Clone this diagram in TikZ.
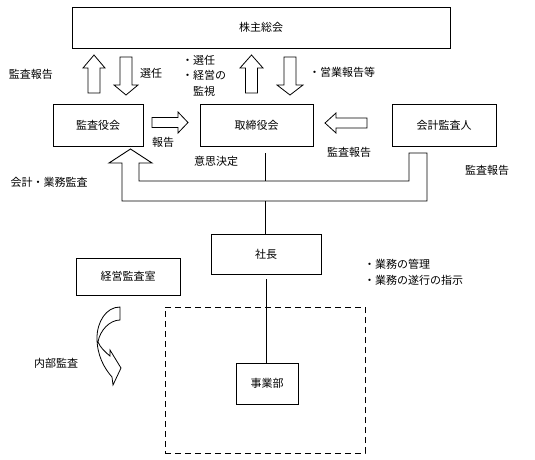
\documentclass[tikz,border=0pt]{standalone}
\usepackage{fontspec}
\setmainfont{Noto Sans CJK JP}

\begin{document}
\begin{tikzpicture}[x=1pt, y=-1pt, font=\fontsize{11}{15.5}\selectfont, line join=miter,
	box/.style={draw, line width=0.9pt, inner sep=0pt},
	lbl/.style={inner sep=0pt},
	pics/blkarr/.style n args={4}{code={
		% length / shaft half width / head half width / head length
		\draw[line width=0.8pt] (0,-#2) -- (#1-#4,-#2) -- (#1-#4,-#3) -- (#1,0) -- (#1-#4,#3) -- (#1-#4,#2) -- (0,#2) -- cycle;
	}}]
	\useasboundingbox (0,0) rectangle (535,459);

	% 会議体
	\node[box, minimum width=378pt, minimum height=41pt] (gm) at (261,27.5) {株主総会};
	\node[box, minimum width=90pt, minimum height=42pt] (kansa) at (98,125) {監査役会};
	\node[box, minimum width=113pt, minimum height=42pt] (board) at (256.5,125) {取締役会};
	\node[box, minimum width=104pt, minimum height=42pt] (auditor) at (444,125) {会計監査人};
	\node[box, minimum width=110pt, minimum height=40pt] (ceo) at (266,254) {社長};
	\node[box, minimum width=104pt, minimum height=37pt] (office) at (128,276.5) {経営監査室};
	\node[draw, dashed, dash pattern=on 6pt off 4pt, line width=1pt, minimum width=200pt, minimum height=146pt] (frame) at (265,380) {};
	\node[box, fill=white, minimum width=62pt, minimum height=41pt] (div) at (267,383.5) {事業部};

	% 株主総会との間
	\pic[rotate=90] (upA) at (94,93) {blkarr={38}{6}{11}{13}};
	\pic[rotate=-90] (downA) at (126,57) {blkarr={38}{6}{12}{10}};
	\pic[rotate=90] (upB) at (251.5,93) {blkarr={38}{6}{11.5}{13}};
	\pic[rotate=-90] (downB) at (290,57) {blkarr={38}{6}{13}{10}};
	\node[lbl] (t1) at (31,74) {監査報告};
	\node[lbl] (t2) at (151,73) {選任};
	\node[lbl, align=left, anchor=north west] (t3) at (182,55) {・選任\\・経営の\\\hphantom{・}監視};
	\node[lbl, anchor=west] (t4) at (309,72) {・営業報告等};

	% 報告
	\pic (rightA) at (152,122.5) {blkarr={36}{5}{10.5}{10}};
	\pic[rotate=180] (leftA) at (367,123) {blkarr={42}{5}{10}{11}};
	\node[lbl] (t5) at (163,142) {報告};
	\node[lbl] (t6) at (349,152) {監査報告};
	\node[lbl] (t7) at (216,161) {意思決定};
	\node[lbl] (t8) at (487,170) {監査報告};
	\node[lbl] (t9) at (49,182) {会計・業務監査};

	% 会計・業務監査の矢印
	\draw[line width=0.9pt] (427,153) -- (427,201) -- (122,201) -- (122,163) -- (109,163) -- (130.5,149)
		-- (152,163) -- (139,163) -- (139,181) -- (409,181) -- (409,153) -- cycle;
	\coordinate (uin) at (265,181);
	\coordinate (uout) at (265,201);
	\draw[line width=0.9pt, shorten <=7pt] (board.south -| uin) -- (uin);
	\draw[line width=0.9pt] (uout) -- (uout |- ceo.north);
	\draw[line width=0.9pt, shorten <=5pt] (ceo.south) -- (ceo.south |- div.north);
	\node[lbl, align=left, anchor=north west] (t10) at (364,259) {・業務の管理\\・業務の遂行の指示};

	% 内部監査
	\draw[line width=0.8pt] (120,307) .. controls (106,307) and (97,322) .. (97,338)
		.. controls (97,355) and (104,368) .. (112,377) -- (113,385) -- (121,368) -- (110,350) -- (110,356)
		.. controls (105,352) and (100,347) .. (98,342) .. controls (100,330) and (110,320) .. (120,320) -- cycle;
	\node[lbl] (t11) at (56,363) {内部監査};
\end{tikzpicture}
\end{document}
